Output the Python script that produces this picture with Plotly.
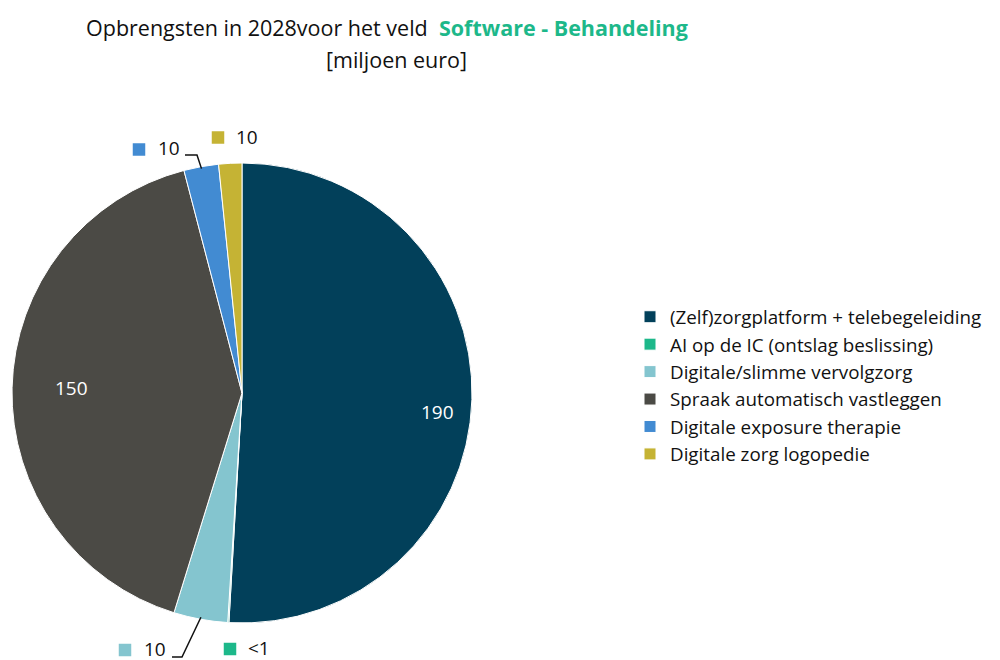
import math
import plotly.graph_objects as go

# ---- data ----
categories = [
    "(Zelf)zorgplatform + telebegeleiding",
    "AI op de IC (ontslag beslissing)",
    "Digitale/slimme vervolgzorg",
    "Spraak automatisch vastleggen",
    "Digitale exposure therapie",
    "Digitale zorg logopedie",
]
values = [188, 0.3, 14, 152, 9, 6]  # miljoen euro
colors = ["#02405A", "#1DB88A", "#84C5CF", "#4B4A45", "#428BD2", "#C5B334"]

def fmt(v):
    return "<1" if v < 1 else f"{int(round(v, -1))}"

value_labels = [fmt(v) for v in values]

# ---- layout / style ----
W, H = 1000, 660
OFF = 8                      # page body margin in the browser
CX, CY, R = 242, 393, 230    # screen pixel centre / radius of the pie
FONT = "Open Sans"

def px(x, y):
    return (x - OFF) / W, 1 - (y - OFF) / H

# per-slice label style:
#  ("in", radius_frac, angle_offset_deg)
#  ("out", square_cx, square_cy, text_left_x, text_cy, leader_points)
label_style = [
    ("in", 0.855, 4.0),
    ("out", 230, 649, 246, 648, None),
    ("out", 125, 650, 142, 649, [(182, 657), (172, 657)]),
    ("in", 0.74, 0.5),
    ("out", 139, 149.5, 156, 148, [(197, 155), (185, 155)]),
    ("out", 218, 137.5, 234, 137.5, None),
]
SQ = 12.5

fig = go.Figure()
fig.add_trace(go.Pie(
    labels=categories,
    values=values,
    sort=False,
    direction="clockwise",
    rotation=0,
    marker=dict(colors=colors, line=dict(color="white", width=1)),
    textinfo="none",
    hoverinfo="label+value",
    domain=dict(x=[px(CX - R, 0)[0], px(CX + R, 0)[0]],
                y=[px(0, CY + R)[1], px(0, CY - R)[1]]),
))

total = sum(values)
cum = 0.0
annotations = []
shapes = []
for i, v in enumerate(values):
    a0 = cum / total * 360
    cum += v
    a1 = cum / total * 360
    mid = (a0 + a1) / 2
    st = label_style[i]
    if st[0] == "in":
        ang = math.radians(mid + st[2])
        lx = CX + st[1] * R * math.sin(ang)
        ly = CY - st[1] * R * math.cos(ang)
        x, y = px(lx, ly)
        annotations.append(dict(x=x, y=y, xref="paper", yref="paper", text=value_labels[i],
                                xanchor="center", yanchor="middle", showarrow=False,
                                font=dict(family=FONT, size=19, color="white")))
    else:
        _, sqx, sqy, tx, ty, leader = st
        x0, y0 = px(sqx - SQ / 2, sqy + SQ / 2)
        x1, y1 = px(sqx + SQ / 2, sqy - SQ / 2)
        shapes.append(dict(type="rect", xref="paper", yref="paper", x0=x0, y0=y0, x1=x1, y1=y1,
                           fillcolor=colors[i], line=dict(width=0)))
        x, y = px(tx, ty)
        annotations.append(dict(
            x=x, y=y, xref="paper", yref="paper", xanchor="left", yanchor="middle",
            text=value_labels[i], showarrow=False,
            font=dict(family=FONT, size=19, color="#111111")))
        if leader:
            ang = math.radians(mid)
            sx = CX + (R - 2) * math.sin(ang)
            sy = CY - (R - 2) * math.cos(ang)
            pts = [(sx, sy)] + leader
            path = "M " + " L ".join(f"{px(a, b)[0]},{px(a, b)[1]}" for a, b in pts)
            shapes.append(dict(type="path", xref="paper", yref="paper", path=path,
                               line=dict(color="#111111", width=1.5)))

# title
annotations.append(dict(
    x=px(387, 0)[0], y=px(0, 27)[1], xref="paper", yref="paper", showarrow=False,
    xanchor="center", yanchor="middle",
    text="Opbrengsten in 2028voor het veld  <b><span style='color:#1DB88A'>Software - Behandeling</span></b>",
    font=dict(family=FONT, size=21.5, color="#111111")))
annotations.append(dict(
    x=px(396, 0)[0], y=px(0, 60)[1], xref="paper", yref="paper", showarrow=False,
    xanchor="center", yanchor="middle",
    text="[miljoen euro]", font=dict(family=FONT, size=21.5, color="#111111")))

fig.update_layout(
    width=W, height=H,
    margin=dict(l=0, r=0, t=0, b=0),
    paper_bgcolor="white",
    plot_bgcolor="white",
    showlegend=True,
    legend=dict(x=px(630, 0)[0], y=px(0, 385.5)[1], xanchor="left", yanchor="middle",
                font=dict(family=FONT, size=18.8, color="#111111"),
                itemwidth=30, traceorder="normal"),
    annotations=annotations,
    shapes=shapes,
)

fig.write_html("out.html")
